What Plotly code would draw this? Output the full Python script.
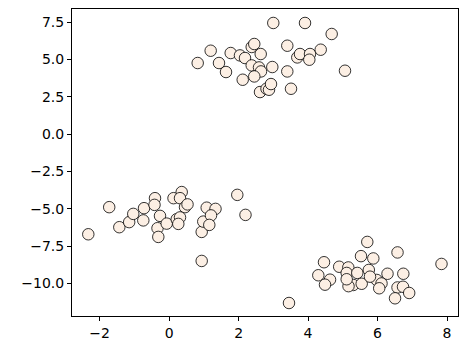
import plotly.graph_objects as go

# Cluster A (upper)
xa = [0.823, 1.197, 1.436, 1.638, 1.773, 2.041, 2.185, 2.378, 2.452, 2.637, 2.378, 2.588,
      2.645, 2.452, 2.119, 2.971, 2.617, 2.804, 2.876, 2.933, 2.999, 3.912, 4.680, 3.402,
      3.690, 3.768, 4.056, 4.036, 4.364, 5.063, 3.402, 3.509]
ya = [4.755, 5.579, 4.755, 4.153, 5.425, 5.265, 5.090, 5.827, 6.028, 5.358, 4.595, 4.461,
      4.193, 3.858, 3.637, 4.488, 2.813, 3.034, 2.967, 3.349, 7.435, 7.435, 6.698, 5.914,
      5.131, 5.358, 5.358, 4.977, 5.646, 4.240, 4.193, 3.034]

# Cluster B (left)
xb = [-2.326, -1.724, -1.433, -1.149, -1.031, -0.722, -0.743, -0.406, -0.420, -0.262, -0.334,
      -0.311, -0.069, 0.127, 0.363, 0.314, 0.458, 0.530, 0.219, 0.314, 0.265, 0.938, 0.984,
      1.082, 1.336, 1.206, 1.157, 1.963, 2.199, 0.938]
yb = [-6.702, -4.889, -6.229, -5.888, -5.338, -4.956, -5.774, -4.287, -4.735, -5.472, -6.296,
      -6.879, -5.988, -4.287, -3.878, -4.287, -4.889, -4.702, -5.693, -5.573, -6.008, -6.544,
      -5.854, -4.923, -5.003, -5.439, -6.075, -4.066, -5.405, -8.486]

# Cluster C (lower right)
xc = [5.705, 5.524, 5.878, 6.575, 7.841, 4.459, 4.896, 5.158, 5.112, 5.417, 5.749, 4.295,
      4.632, 4.488, 5.302, 5.164, 5.544, 5.976, 6.114, 6.048, 6.287, 6.742, 6.575, 6.733,
      6.911, 6.503, 5.112, 5.783, 3.451]
yc = [-7.214, -8.165, -8.319, -7.917, -8.687, -8.573, -8.875, -8.922, -9.290, -9.290, -9.089,
      -9.444, -9.739, -10.074, -10.094, -10.174, -10.013, -9.759, -9.993, -10.315, -9.344,
      -9.344, -10.261, -10.214, -10.630, -10.985, -9.712, -9.538, -11.300]

xs = xa + xb + xc
ys = ya + yb + yc

x_ticks = [-2, 0, 2, 4, 6, 8]
y_ticks = [-10.0, -7.5, -5.0, -2.5, 0.0, 2.5, 5.0, 7.5]

fig = go.Figure(go.Scatter(
    x=xs, y=ys, mode="markers",
    marker=dict(size=11.5, color="#fcefe4", line=dict(color="black", width=0.8)),
))

axis_common = dict(
    showgrid=False, zeroline=False, showline=True, linecolor="black", linewidth=1,
    mirror=True, ticks="outside", ticklen=4, tickwidth=1, tickcolor="black",
    tickfont=dict(family="DejaVu Sans", size=14, color="black"),
)
fig.update_xaxes(range=[-2.795, 8.316], tickvals=x_ticks, ticktext=[("−" if v < 0 else "") + str(abs(v)) for v in x_ticks], **axis_common)
fig.update_yaxes(range=[-12.17, 8.37], tickvals=y_ticks, ticktext=[("−" if v < 0 else "") + f"{abs(v):.1f}" for v in y_ticks], **axis_common)

fig.update_layout(
    width=468, height=352,
    margin=dict(l=72, r=10, t=9, b=36),
    paper_bgcolor="white", plot_bgcolor="white",
    showlegend=False,
)
fig.write_html("out.html")
